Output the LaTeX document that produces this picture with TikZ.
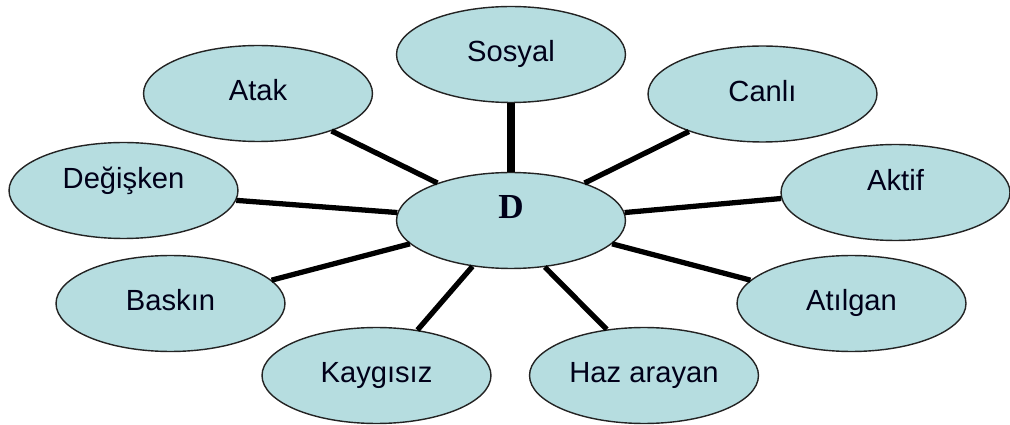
\documentclass[tikz,border=0pt]{standalone}
\usepackage{fontspec}
\setmainfont{Liberation Sans}
\newfontfamily\centerfont{Liberation Serif}
\usetikzlibrary{shapes.geometric}
\definecolor{ovalfill}{RGB}{182,221,224}
\definecolor{ovalline}{RGB}{35,35,35}

\begin{document}
\begin{tikzpicture}[
  x=0.02cm, y=-0.02cm,
  E/.style = {ellipse, draw=ovalline, fill=ovalfill, line width=0.8pt,
              minimum width=4.58cm, minimum height=1.92cm, inner sep=0pt,
              text height=0.42cm, text depth=0.12cm,
              font=\fontsize{16.6}{19}\selectfont, text=black!90!blue},
  hi/.style = {text depth=0.5cm},
  spoke/.style = {line width=3pt, black},
  thick spoke/.style = {line width=5pt, black}
]
\useasboundingbox (0,0) rectangle (1010,425);

% centre
\node[E, hi, font=\fontsize{20}{23}\centerfont\bfseries] (D) at (511,220.5) {D};

% ring of traits
\node[E]     (sosyal)   at (511,54.5)  {Sosyal};
\node[E]     (atak)     at (258,93.5)  {Atak};
\node[E]     (canli)    at (762.5,94)  {Canlı};
\node[E, hi] (degisken) at (123.5,190.5) {Değişken};
\node[E, hi] (aktif)    at (895.5,192.5) {Aktif};
\node[E]     (baskin)   at (170.5,303.5) {Baskın};
\node[E]     (atilgan)  at (851.5,303.5) {Atılgan};
\node[E]     (kaygisiz) at (376.5,375.5) {Kaygısız};
\node[E]     (haz)      at (644,375.5)   {Haz arayan};

% spokes
\draw[thick spoke] (D.90)  -- (sosyal.270);
\draw[spoke] (D.153)   -- (atak.333);
\draw[spoke] (D.27.5)  -- (canli.207.7);
\draw[spoke] (D.4.3)   -- (aktif.183.8);
\draw[spoke] (D.176.2) -- (degisken.355.3);
\draw[spoke] (D.193.6) -- (baskin.13);
\draw[spoke] (D.347.3) -- (atilgan.167);
\draw[spoke] (D.230.6) -- (kaygisiz.48.3);
\draw[spoke] (D.306.7) -- (haz.129);

\end{tikzpicture}
\end{document}
